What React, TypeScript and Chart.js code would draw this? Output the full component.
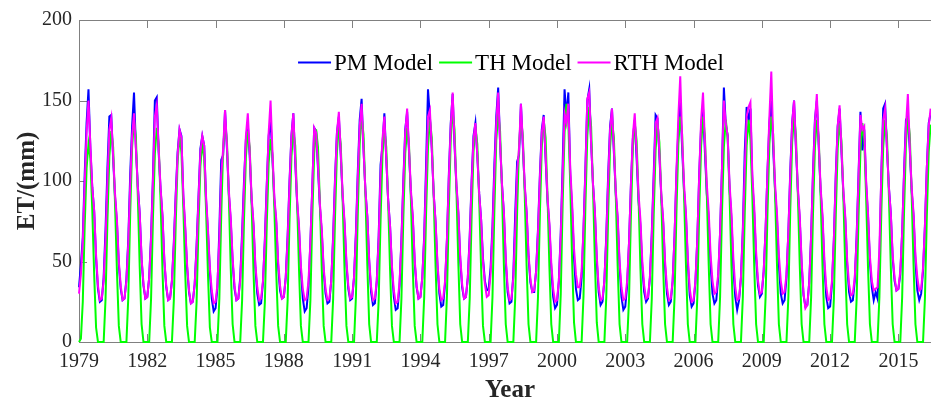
import React, { useEffect, useRef } from "react";
import { Chart, registerables } from "chart.js";

Chart.register(...registerables);

const START_YEAR = 1979;
const LAST_MONTH_INDEX = 455; // Dec 2016 (axis end)
const YEAR_TICKS = [1979, 1982, 1985, 1988, 1991, 1994, 1997, 2000, 2003, 2006, 2009, 2012, 2015];
const Y_TICKS = [0, 50, 100, 150, 200];
const SERIES_NAMES = ["PM Model", "TH Model", "RTH Model"];
const SERIES_COLORS = ["#0000ff", "#00ff00", "#ff00ff"];
const X_TITLE = "Year";
const Y_TITLE = "ET/(mm)";

// Monthly ET (mm), Jan 1979 onward, one row per year
const PM_ET = [
  34, 48, 65, 104, 136, 157, 120, 96, 81, 52, 33, 25,
  26, 40, 70, 108, 140, 141, 114, 90, 74, 48, 33, 26,
  27, 39, 64, 104, 134, 155, 121, 97, 80, 51, 35, 27,
  28, 40, 66, 103, 150, 152, 118, 95, 78, 50, 34, 26,
  27, 38, 62, 92, 118, 132, 128, 90, 70, 46, 31, 24,
  25, 36, 60, 90, 120, 128, 122, 88, 68, 44, 27, 19,
  21, 34, 70, 113, 116, 144, 120, 92, 75, 50, 33, 26,
  27, 40, 68, 100, 126, 135, 116, 88, 72, 46, 30, 23,
  24, 37, 64, 98, 128, 138, 114, 88, 74, 47, 32, 27,
  28, 40, 66, 100, 128, 142, 112, 86, 70, 44, 27, 19,
  21, 34, 62, 96, 133, 131, 108, 84, 68, 44, 30, 24,
  25, 38, 66, 102, 130, 140, 116, 90, 73, 48, 33, 26,
  27, 40, 68, 106, 138, 151, 120, 94, 78, 50, 31, 23,
  24, 38, 66, 110, 122, 142, 114, 88, 72, 45, 28, 20,
  21, 35, 64, 100, 132, 143, 118, 92, 76, 49, 34, 27,
  28, 40, 66, 110, 157, 140, 120, 92, 74, 47, 30, 22,
  23, 36, 64, 104, 136, 154, 122, 96, 80, 51, 34, 27,
  28, 40, 66, 100, 128, 136, 116, 92, 76, 52, 38, 32,
  33, 46, 72, 110, 140, 158, 124, 98, 80, 50, 31, 24,
  25, 42, 80, 112, 116, 148, 122, 96, 80, 53, 37, 31,
  31, 44, 70, 104, 132, 141, 114, 88, 72, 46, 28, 21,
  23, 38, 68, 110, 157, 140, 155, 104, 82, 52, 33, 26,
  27, 40, 70, 108, 150, 157, 124, 98, 80, 50, 31, 23,
  25, 38, 66, 104, 134, 145, 118, 92, 76, 48, 28, 20,
  22, 35, 62, 98, 126, 138, 114, 88, 72, 46, 31, 25,
  27, 40, 68, 104, 141, 139, 116, 90, 74, 47, 30, 23,
  25, 38, 66, 104, 132, 150, 120, 94, 78, 49, 29, 22,
  24, 37, 64, 104, 134, 145, 118, 92, 76, 48, 30, 24,
  26, 40, 68, 108, 158, 135, 128, 95, 76, 46, 28, 20,
  26, 40, 70, 118, 146, 138, 145, 100, 80, 52, 35, 28,
  30, 44, 70, 106, 136, 150, 120, 94, 76, 48, 30, 24,
  26, 40, 68, 106, 136, 150, 120, 94, 76, 48, 29, 22,
  23, 37, 66, 106, 138, 150, 122, 94, 76, 47, 28, 21,
  22, 36, 64, 104, 134, 145, 118, 92, 76, 48, 31, 25,
  26, 38, 66, 104, 143, 119, 132, 98, 78, 50, 34, 26,
  31, 27, 50, 104, 145, 148, 120, 96, 80, 52, 38, 32,
  33, 42, 68, 106, 138, 140, 120, 94, 78, 50, 32, 26,
  30, 44, 72, 108, 136, 142,
];

const TH_ET = [
  0, 2, 25, 72, 108, 123, 114, 82, 42, 9, 0, 0,
  0, 0, 27, 76, 115, 131, 121, 86, 44, 10, 0, 0,
  0, 0, 28, 80, 121, 138, 127, 91, 47, 11, 0, 0,
  0, 0, 27, 77, 117, 133, 123, 88, 45, 10, 0, 0,
  0, 0, 26, 74, 112, 128, 118, 84, 43, 10, 0, 0,
  0, 0, 25, 72, 109, 124, 114, 82, 42, 9, 0, 0,
  0, 0, 27, 79, 120, 136, 125, 90, 46, 11, 0, 0,
  0, 0, 26, 76, 115, 131, 121, 86, 44, 10, 0, 0,
  0, 0, 25, 73, 111, 126, 116, 83, 43, 10, 0, 0,
  0, 0, 26, 76, 115, 131, 122, 87, 45, 10, 0, 0,
  0, 0, 26, 77, 117, 132, 121, 87, 45, 10, 0, 0,
  0, 0, 27, 78, 118, 134, 123, 88, 45, 10, 0, 0,
  0, 0, 28, 81, 123, 140, 129, 92, 48, 11, 0, 0,
  0, 0, 26, 76, 116, 132, 121, 87, 45, 10, 0, 0,
  0, 0, 27, 77, 117, 133, 122, 88, 45, 10, 0, 0,
  0, 0, 28, 80, 121, 138, 127, 91, 47, 11, 0, 0,
  0, 0, 29, 83, 126, 143, 132, 94, 49, 11, 0, 0,
  0, 0, 27, 78, 118, 134, 123, 88, 46, 10, 0, 0,
  0, 0, 28, 82, 125, 142, 131, 94, 48, 11, 0, 0,
  0, 0, 28, 81, 122, 139, 128, 92, 47, 11, 0, 0,
  0, 0, 28, 80, 121, 138, 127, 91, 47, 11, 0, 0,
  0, 0, 30, 86, 130, 148, 136, 98, 50, 12, 0, 0,
  0, 0, 29, 85, 128, 146, 134, 96, 50, 12, 0, 0,
  0, 0, 28, 80, 121, 138, 127, 91, 47, 11, 0, 0,
  0, 0, 27, 79, 120, 136, 125, 90, 46, 11, 0, 0,
  0, 0, 27, 79, 119, 136, 124, 90, 46, 11, 0, 0,
  0, 0, 28, 81, 123, 140, 129, 92, 48, 11, 0, 0,
  0, 0, 28, 81, 122, 140, 128, 92, 48, 11, 0, 0,
  0, 0, 28, 80, 121, 138, 127, 91, 47, 11, 0, 0,
  0, 0, 28, 80, 122, 138, 126, 91, 47, 11, 0, 0,
  0, 0, 28, 81, 123, 140, 129, 92, 48, 11, 0, 0,
  0, 0, 28, 82, 124, 140, 128, 92, 48, 11, 0, 0,
  0, 0, 28, 80, 121, 138, 127, 91, 47, 11, 0, 0,
  0, 0, 27, 79, 120, 136, 125, 90, 46, 11, 0, 0,
  0, 0, 27, 78, 119, 136, 126, 90, 46, 11, 0, 0,
  0, 0, 28, 80, 121, 138, 127, 91, 47, 11, 0, 0,
  0, 0, 28, 81, 123, 140, 129, 92, 48, 11, 0, 0,
  0, 0, 27, 78, 118, 135,
];

const RTH_ET = [
  30, 42, 62, 98, 130, 150, 122, 96, 82, 54, 35, 26,
  27, 38, 64, 100, 132, 139, 116, 92, 76, 50, 35, 26,
  27, 38, 62, 98, 128, 142, 120, 96, 80, 52, 36, 27,
  28, 40, 64, 100, 140, 147, 120, 96, 79, 51, 35, 26,
  27, 38, 60, 90, 116, 132, 127, 92, 72, 48, 32, 24,
  25, 36, 58, 88, 118, 128, 122, 90, 70, 46, 32, 24,
  25, 36, 64, 104, 120, 144, 122, 94, 77, 52, 35, 26,
  27, 38, 64, 96, 128, 142, 118, 90, 74, 48, 34, 26,
  27, 38, 62, 96, 130, 150, 118, 90, 76, 50, 35, 27,
  28, 40, 64, 98, 128, 142, 114, 88, 72, 47, 33, 26,
  27, 38, 62, 96, 133, 130, 110, 86, 70, 46, 33, 26,
  27, 38, 64, 100, 130, 143, 118, 92, 75, 50, 35, 27,
  28, 40, 66, 102, 134, 148, 120, 94, 78, 51, 34, 26,
  27, 38, 64, 104, 126, 140, 114, 88, 72, 47, 32, 24,
  25, 37, 62, 98, 130, 145, 120, 94, 78, 51, 35, 27,
  28, 40, 64, 102, 140, 144, 120, 92, 75, 49, 33, 26,
  27, 38, 64, 102, 134, 155, 124, 98, 81, 53, 36, 27,
  28, 40, 64, 98, 126, 136, 116, 92, 76, 50, 36, 28,
  29, 42, 68, 104, 136, 155, 124, 98, 81, 52, 34, 26,
  27, 40, 70, 106, 120, 148, 124, 98, 81, 55, 39, 31,
  32, 44, 68, 102, 130, 140, 116, 90, 74, 49, 33, 25,
  26, 38, 66, 104, 142, 136, 148, 108, 86, 58, 42, 34,
  34, 44, 70, 106, 151, 155, 124, 98, 81, 53, 34, 26,
  27, 38, 64, 100, 132, 145, 120, 94, 78, 50, 34, 26,
  27, 38, 62, 98, 128, 142, 118, 92, 76, 50, 35, 27,
  28, 40, 66, 100, 136, 139, 118, 92, 76, 50, 34, 26,
  27, 38, 66, 106, 140, 165, 126, 98, 80, 52, 33, 25,
  26, 38, 64, 104, 138, 155, 124, 98, 81, 54, 38, 30,
  31, 42, 68, 108, 150, 136, 128, 98, 80, 52, 34, 26,
  27, 40, 68, 106, 140, 146, 149, 104, 84, 56, 38, 30,
  31, 44, 70, 106, 140, 168, 126, 98, 80, 54, 38, 30,
  31, 42, 68, 104, 136, 150, 122, 96, 78, 50, 30, 21,
  23, 37, 66, 104, 136, 154, 124, 96, 79, 51, 34, 26,
  27, 38, 64, 102, 134, 147, 120, 94, 78, 51, 36, 29,
  30, 40, 64, 102, 141, 132, 134, 100, 80, 53, 38, 32,
  33, 34, 58, 104, 138, 145, 120, 96, 80, 54, 40, 32,
  33, 44, 68, 104, 134, 154, 122, 96, 80, 54, 40, 32,
  33, 46, 72, 108, 134, 145,
];

const SERIES_VALUES = [PM_ET, TH_ET, RTH_ET];

const FONT = '"Liberation Serif", "Times New Roman", serif';
const AXIS_GRAY = "#808080";
const TEXT_COLOR = "#262626";

const decorPlugin = {
  id: "decor",
  beforeDatasetsDraw(chart: any) {
    const { ctx, chartArea, scales } = chart;
    const { left, right, top, bottom } = chartArea;
    ctx.save();
    ctx.strokeStyle = AXIS_GRAY;
    ctx.lineWidth = 1;
    ctx.beginPath();
    ctx.moveTo(Math.round(left) + 0.5, Math.round(top) + 0.5);
    ctx.lineTo(Math.round(right) + 0.5, Math.round(top) + 0.5);
    ctx.lineTo(Math.round(right) + 0.5, Math.round(bottom) + 0.5);
    ctx.lineTo(Math.round(left) + 0.5, Math.round(bottom) + 0.5);
    ctx.closePath();
    ctx.stroke();
    const tl = 8;
    ctx.beginPath();
    for (const yr of YEAR_TICKS) {
      const px = Math.round(scales.x.getPixelForValue((yr - START_YEAR) * 12)) + 0.5;
      ctx.moveTo(px, bottom);
      ctx.lineTo(px, bottom - tl);
      ctx.moveTo(px, top);
      ctx.lineTo(px, top + tl);
    }
    for (const v of Y_TICKS) {
      const py = Math.round(scales.y.getPixelForValue(v)) + 0.5;
      ctx.moveTo(left, py);
      ctx.lineTo(left + tl, py);
      ctx.moveTo(right, py);
      ctx.lineTo(right - tl, py);
    }
    ctx.stroke();
    ctx.restore();
  },
  afterDraw(chart: any) {
    const { ctx, chartArea } = chart;
    const { top, bottom } = chartArea;
    ctx.save();
    ctx.fillStyle = TEXT_COLOR;
    ctx.font = `bold 25px ${FONT}`;
    ctx.textAlign = "center";
    ctx.textBaseline = "alphabetic";
    ctx.fillText(X_TITLE, 510, 397);
    ctx.save();
    ctx.translate(34, (top + bottom) / 2);
    ctx.rotate(-Math.PI / 2);
    ctx.fillText(Y_TITLE, 0, 0);
    ctx.restore();

    // legend
    ctx.font = `23px ${FONT}`;
    const lineLen = 33;
    const gapText = 3;
    const gapItem = 6;
    const widths = SERIES_NAMES.map((n) => ctx.measureText(n).width);
    const total = widths.reduce((a, w) => a + lineLen + gapText + w, 0) + gapItem * (SERIES_NAMES.length - 1);
    let x = 511 - total / 2;
    const lineY = 62.5;
    ctx.textAlign = "left";
    ctx.fillStyle = "#000000";
    SERIES_NAMES.forEach((name, i) => {
      ctx.strokeStyle = SERIES_COLORS[i];
      ctx.lineWidth = 2;
      ctx.beginPath();
      ctx.moveTo(x, lineY);
      ctx.lineTo(x + lineLen, lineY);
      ctx.stroke();
      ctx.fillText(name, x + lineLen + gapText, 69.5);
      x += lineLen + gapText + widths[i] + gapItem;
    });
    ctx.restore();
  },
};

export default function App() {
  const canvasRef = useRef<HTMLCanvasElement | null>(null);

  useEffect(() => {
    const canvas = canvasRef.current;
    if (!canvas) return;
    const orders = [3, 2, 1];
    const chart = new Chart(canvas, {
      type: "line",
      data: {
        datasets: SERIES_NAMES.map((name, i) => ({
          label: name,
          data: SERIES_VALUES[i].map((v, k) => ({ x: k, y: v })),
          borderColor: SERIES_COLORS[i],
          backgroundColor: SERIES_COLORS[i],
          borderWidth: 2,
          pointRadius: 0,
          tension: 0,
          fill: false,
          clip: false as any,
          order: orders[i],
        })),
      },
      options: {
        animation: false,
        responsive: false,
        devicePixelRatio: 1,
        events: [],
        layout: { padding: { top: 20, right: 8, left: 0, bottom: 0 } },
        plugins: { legend: { display: false }, tooltip: { enabled: false } },
        scales: {
          x: {
            type: "linear",
            min: 0,
            max: LAST_MONTH_INDEX,
            grid: { display: false, drawTicks: false },
            border: { display: false },
            ticks: {
              autoSkip: false,
              maxRotation: 0,
              padding: 8,
              color: TEXT_COLOR,
              font: { family: FONT, size: 20 },
              callback: (v: any) => String(START_YEAR + Math.round(Number(v) / 12)),
            },
            afterBuildTicks: (s: any) => {
              s.ticks = YEAR_TICKS.map((yr) => ({ value: (yr - START_YEAR) * 12 }));
            },
            afterFit: (s: any) => {
              s.height = 59;
            },
          },
          y: {
            min: 0,
            max: 200,
            grid: { display: false, drawTicks: false },
            border: { display: false },
            ticks: {
              padding: 7,
              color: TEXT_COLOR,
              font: { family: FONT, size: 20 },
            },
            afterBuildTicks: (s: any) => {
              s.ticks = Y_TICKS.map((v) => ({ value: v }));
            },
            afterFit: (s: any) => {
              s.width = 79;
            },
          },
        },
      },
      plugins: [decorPlugin],
    });
    return () => chart.destroy();
  }, []);

  return (
    <div style={{ position: "absolute", left: 0, top: 0, width: 931, height: 401, overflow: "hidden", background: "#fff" }}>
      <canvas ref={canvasRef} width={950} height={401} style={{ display: "block", width: 950, height: 401 }} />
    </div>
  );
}
